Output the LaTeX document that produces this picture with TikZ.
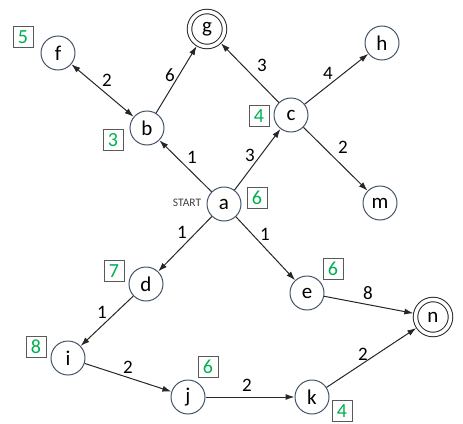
\documentclass[tikz,border=0pt]{standalone}
\usepackage{fontspec}
\setmainfont{Carlito}
\usetikzlibrary{arrows.meta}
\definecolor{stateblue}{HTML}{44546A}
\definecolor{hgreen}{HTML}{00B050}

\begin{document}
\begin{tikzpicture}[x=1pt,y=-1pt,>={Latex[length=9pt,width=6pt]},
  state/.style={circle,draw=stateblue,line width=1pt,minimum size=34pt,inner sep=0pt,font=\fontsize{21}{21}\selectfont},
  goal/.style={state,draw=black!85,double=white,double distance=3.5pt,minimum size=35pt,outer sep=2.5pt},
  hval/.style={draw=gray!70!black,line width=0.8pt,minimum width=20pt,minimum height=21pt,inner sep=0pt,text=hgreen,font=\fontsize{20}{20}\selectfont},
  cost/.style={inner sep=0pt,font=\fontsize{19}{19}\selectfont},
  edge/.style={->,line width=1pt,black!85}]
\useasboundingbox (0,0) rectangle (463,423);

% states
\node[state] (a) at (224,204) {a};
\node[state] (b) at (147,128) {b};
\node[state] (c) at (291,115) {c};
\node[state] (d) at (146,284) {d};
\node[state] (e) at (307,293) {e};
\node[state] (f) at (58,53) {f};
\node[goal]  (g) at (207,29) {g};
\node[state] (h) at (382,43) {h};
\node[state] (i) at (68,358) {i};
\node[state] (j) at (188,397) {j};
\node[state] (k) at (312,397) {k};
\node[state] (m) at (380,203) {m};
\node[goal]  (n) at (433,317) {n};
\node[inner sep=0pt,text=black!75,font=\fontsize{11.5}{11.5}\selectfont] (start) at (187,203) {START};

% heuristic boxes
\node[hval] (ha) at (257,198) {6};
\node[hval] (hb) at (113,140) {3};
\node[hval] (hc) at (259,116) {4};
\node[hval] (hd) at (114,271) {7};
\node[hval] (he) at (333,269) {6};
\node[hval] (hf) at (23,37) {5};
\node[hval] (hi) at (36,347) {8};
\node[hval] (hj) at (208,367) {6};
\node[hval] (hk) at (342,411) {4};

% edges
\draw[edge,<->] (f) -- (b);
\draw[edge] (b) -- (g);
\draw[edge] (c) -- (g);
\draw[edge] (c) -- (h);
\draw[edge] (c) -- (m);
\draw[edge] (a) -- (b);
\draw[edge] (a) -- (c);
\draw[edge] (a) -- (d);
\draw[edge] (a) -- (e);
\draw[edge] (d) -- (i);
\draw[edge] (e) -- (n);
\draw[edge] (i) -- (j);
\draw[edge] (j) -- (k);
\draw[edge] (k) -- (n);

% costs
\node[cost] (wfb) at (107,80) {2};
\node[cost] (wbg) at (170,75) {6};
\node[cost] (wcg) at (262,65) {3};
\node[cost] (wch) at (328,73) {4};
\node[cost] (wcm) at (343,147) {2};
\node[cost] (wab) at (192,157) {1};
\node[cost] (wac) at (250,155) {3};
\node[cost] (wad) at (182,232) {1};
\node[cost] (wae) at (265,234) {1};
\node[cost] (wdi) at (102,312) {1};
\node[cost] (wen) at (368,293) {8};
\node[cost] (wij) at (128,367) {2};
\node[cost] (wjk) at (247,385) {2};
\node[cost] (wkn) at (363,354) {2};

\end{tikzpicture}
\end{document}
